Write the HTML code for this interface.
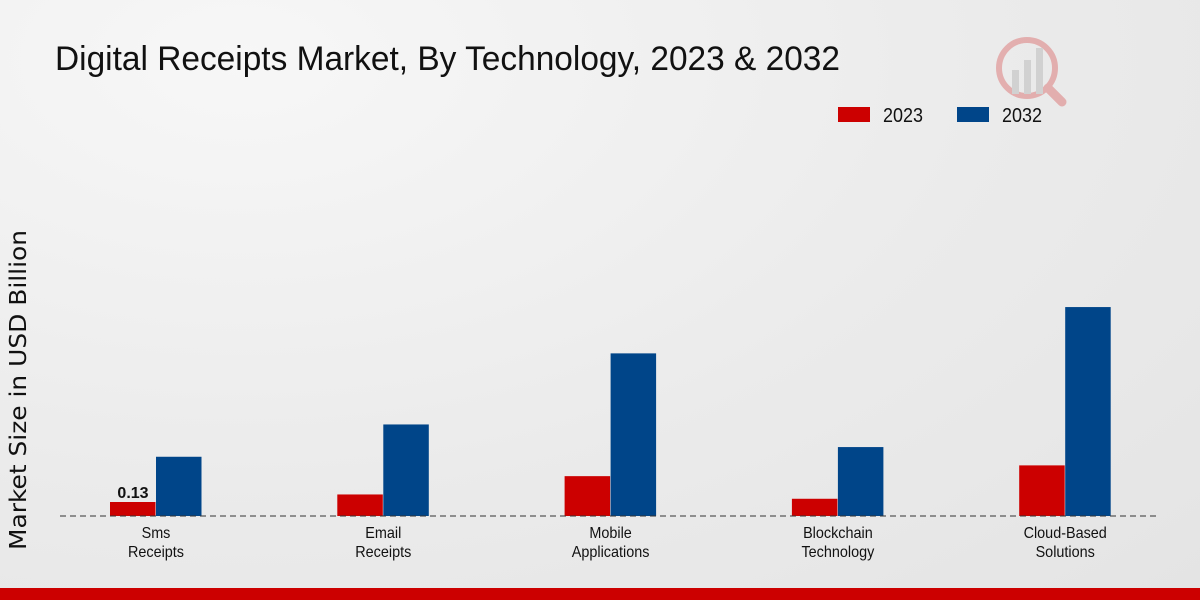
<!DOCTYPE html>
<html><head><meta charset="utf-8"><style>
body{margin:0;width:1200px;height:600px;overflow:hidden;font-family:"Liberation Sans",sans-serif;}
#wrap{position:relative;width:1200px;height:600px;background:radial-gradient(ellipse at 20% 10%,#f7f7f7 0%,#ebebeb 55%,#e4e4e4 100%);}
</style></head><body>
<div id="wrap">
<svg id="chart" width="1200" height="600">
<text x="55" y="70" font-size="34" fill="#111" textLength="785" lengthAdjust="spacingAndGlyphs">Digital Receipts Market, By Technology, 2023 &amp; 2032</text>
<g>
<rect x="838" y="107" width="32" height="15" fill="#cc0000"/>
<text x="883" y="122" font-size="20" fill="#111" textLength="40" lengthAdjust="spacingAndGlyphs">2023</text>
<rect x="957" y="107" width="32" height="15" fill="#004589"/>
<text x="1002" y="122" font-size="20" fill="#111" textLength="40" lengthAdjust="spacingAndGlyphs">2032</text>
</g>
<text transform="translate(26,390) rotate(-90)" text-anchor="middle" font-size="23" fill="#111" font-family="DejaVu Sans, sans-serif" textLength="320" lengthAdjust="spacingAndGlyphs">Market Size in USD Billion</text>
<g id="bars"></g>
<line x1="60" y1="516" x2="1160" y2="516" stroke="#333" stroke-dasharray="6,4"/>
<g id="xlabels"></g>
<g opacity="0.25">
<circle cx="1027" cy="68" r="28" fill="none" stroke="#cc0000" stroke-width="6"/>
<rect x="1012" y="70" width="7" height="24" fill="#888"/><rect x="1024" y="60" width="7" height="34" fill="#888"/><rect x="1036" y="48" width="7" height="46" fill="#888"/>
<line x1="1048" y1="88" x2="1062" y2="102" stroke="#cc0000" stroke-width="9" stroke-linecap="round"/>
</g>
</svg>
<div style="position:absolute;left:0;top:588px;width:1200px;height:12px;background:#cc0000"></div>
</div>
<script>
const categories=[["Sms","Receipts"],["Email","Receipts"],["Mobile","Applications"],["Blockchain","Technology"],["Cloud-Based","Solutions"]];
const values2023=[0.13,0.20,0.37,0.16,0.47];
const values2032=[0.55,0.85,1.51,0.64,1.94];
const ns="http://www.w3.org/2000/svg";
const baseY=516, pxPerUnit=107.7;
function yScale(v){return baseY-v*pxPerUnit;}
function xCenter(i){return 156+i*227.3;}
const bars=document.getElementById('bars'), xl=document.getElementById('xlabels');
categories.forEach((c,i)=>{
  [[values2023,"#cc0000",-46,"2023"],[values2032,"#004589",0,"2032"]].forEach(([arr,col,off,yr])=>{
    const r=document.createElementNS(ns,'rect');
    const y=yScale(arr[i]);
    r.setAttribute('x',xCenter(i)+off);r.setAttribute('y',y);
    r.setAttribute('width',45.5);r.setAttribute('height',baseY-y);r.setAttribute('fill',col);
    
    
    bars.appendChild(r);
  });
  c.forEach((line,j)=>{
    const t=document.createElementNS(ns,'text');
    t.setAttribute('x',xCenter(i));t.setAttribute('y',538+j*19);
    t.setAttribute('text-anchor','middle');t.setAttribute('font-size','16');t.setAttribute('fill','#111');
    t.setAttribute('transform','translate('+xCenter(i)+',0) scale(0.9,1) translate('+(-xCenter(i))+',0)');
    t.textContent=line;
    
    
    xl.appendChild(t);
  });
});
const vl=document.createElementNS(ns,'text');
vl.setAttribute('x',xCenter(0)-23);vl.setAttribute('y',yScale(values2023[0])-4);
vl.setAttribute('text-anchor','middle');vl.setAttribute('font-size','16');vl.setAttribute('font-weight','bold');vl.setAttribute('fill','#111');
vl.textContent=values2023[0].toFixed(2);


bars.appendChild(vl);
</script>
</body></html>
